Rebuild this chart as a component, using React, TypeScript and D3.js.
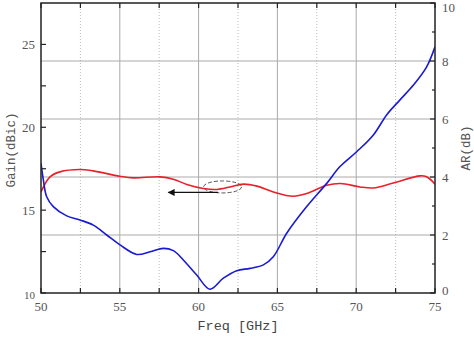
import React from 'react';
import * as d3 from 'd3';

// Gain (left axis, dBic) - red curve
const gainFreq = [50, 50.57, 51.2, 52.47, 53.3, 55.0, 55.86, 57.55, 58.4, 59.25, 60.3, 61.15, 62.0, 62.84, 63.7, 64.74, 66.0, 66.86, 68.13, 69.0, 70.24, 71.1, 72.35, 74.05, 74.47, 75];
const gainVals = [16.1, 17.01, 17.31, 17.45, 17.37, 17.05, 16.95, 17.01, 16.87, 16.55, 16.31, 16.25, 16.4, 16.57, 16.45, 16.1, 15.84, 16.0, 16.5, 16.61, 16.4, 16.34, 16.64, 17.07, 17.01, 16.57];

// AR (right axis, dB) - blue curve
const arFreq = [50, 50.15, 50.36, 50.78, 51.63, 52.47, 53.32, 54.17, 55.01, 56.07, 56.92, 57.76, 58.4, 59.03, 59.88, 60.72, 61.57, 62.42, 63.26, 64.11, 64.74, 65.59, 66.86, 68.13, 68.97, 70.03, 71.09, 71.93, 72.78, 73.63, 74.47, 75];
const arVals = [4.47, 3.9, 3.32, 2.98, 2.66, 2.52, 2.34, 2.0, 1.66, 1.33, 1.42, 1.54, 1.46, 1.14, 0.62, 0.13, 0.51, 0.77, 0.85, 0.97, 1.25, 2.06, 2.98, 3.78, 4.36, 4.87, 5.45, 6.14, 6.66, 7.17, 7.8, 8.49];

const xMajor = [50, 55, 60, 65, 70, 75];
const xMinor = [52.5, 57.5, 62.5, 67.5, 72.5];
const gainMajor = [10, 15, 20, 25];
const gainMinor = [12.5, 17.5, 22.5];
const arMajor = [0, 2, 4, 6, 8, 10];
const arMinor = [1, 3, 5, 7, 9];

const W = 474;
const H = 348;
const left = 41, right = 435, top = 3, bottom = 293;

export default function App() {
  const x = d3.scaleLinear().domain([50, 75]).range([left, right]);
  const yL = d3.scaleLinear().domain([10, 27.5]).range([bottom, top]);
  const yR = d3.scaleLinear().domain([0, 10]).range([bottom, top]);

  const gainLine = d3.line<number>()
    .x((_, i) => x(gainFreq[i]))
    .y(d => yL(d))
    .curve(d3.curveCatmullRom.alpha(0.5));
  const arLine = d3.line<number>()
    .x((_, i) => x(arFreq[i]))
    .y(d => yR(d))
    .curve(d3.curveCatmullRom.alpha(0.5));

  const tickLen = 5;
  const minorLen = 3;
  const labelColor = '#555';
  const serif = '"Liberation Serif", "DejaVu Serif", serif';
  const mono = '"Liberation Mono", "DejaVu Sans Mono", monospace';

  // keep the top-right "10" inside the picture
  const rightLabelY = (v: number) => {
    if (v === 0) return yR(v) + 2;
    if (v === 10) return yR(v) + 9;
    return yR(v) + 4.5;
  };

  return (
    <svg width={W} height={H} style={{ position: 'absolute', left: 0, top: 0, background: '#fff' }}>
      <defs>
        <marker id="arrowHead" viewBox="0 0 10 10" refX="9" refY="5" markerWidth="8" markerHeight="7" orient="auto" markerUnits="userSpaceOnUse">
          <path d="M0,0 L10,5 L0,10 z" fill="#111" />
        </marker>
        <clipPath id="plotClip">
          <rect x={left} y={top} width={right - left} height={bottom - top} />
        </clipPath>
      </defs>

      {/* grid */}
      <g>
        {xMajor.slice(1, -1).map(v => (
          <line key={'gx' + v} x1={x(v)} x2={x(v)} y1={top} y2={bottom} stroke="#aaa" strokeWidth={1} />
        ))}
        {xMinor.map(v => (
          <line key={'gxm' + v} x1={x(v)} x2={x(v)} y1={top} y2={bottom} stroke="#bbb" strokeWidth={1} strokeDasharray="1,2" />
        ))}
        {arMajor.slice(1, -1).map(v => (
          <line key={'gy' + v} x1={left} x2={right} y1={yR(v)} y2={yR(v)} stroke="#aaa" strokeWidth={1} />
        ))}
      </g>

      {/* curves */}
      <g clipPath="url(#plotClip)">
        <path d={gainLine(gainVals) || ''} fill="none" stroke="#e8202a" strokeWidth={1.6} />
        <path d={arLine(arVals) || ''} fill="none" stroke="#1a1ad2" strokeWidth={1.6} />
      </g>

      {/* annotation */}
      <ellipse cx={x(61.52)} cy={yL(16.4)} rx={19} ry={6} fill="none" stroke="#555" strokeWidth={1} strokeDasharray="4,2" />
      <line x1={x(61.23)} y1={yL(16.07)} x2={x(58.08)} y2={yL(16.07)} stroke="#111" strokeWidth={1.3} markerEnd="url(#arrowHead)" />

      {/* frame */}
      <rect x={left} y={top} width={right - left} height={bottom - top} fill="none" stroke="#222" strokeWidth={1.5} />

      {/* bottom/top ticks */}
      {xMajor.concat(xMinor).map(v => (
        <g key={'tx' + v}>
          <line x1={x(v)} x2={x(v)} y1={bottom} y2={bottom - tickLen} stroke="#222" strokeWidth={1.2} />
          <line x1={x(v)} x2={x(v)} y1={top} y2={top + tickLen} stroke="#222" strokeWidth={1.2} />
        </g>
      ))}
      {xMajor.map(v => (
        <text key={'lx' + v} x={x(v)} y={bottom + 18} textAnchor="middle" fontFamily={serif} fontSize={13} fill={labelColor}>{v}</text>
      ))}

      {/* left ticks */}
      {gainMajor.concat(gainMinor).map(v => (
        <line key={'tl' + v} x1={left} x2={left + tickLen} y1={yL(v)} y2={yL(v)} stroke="#222" strokeWidth={1.2} />
      ))}
      {gainMajor.map(v => (
        <text key={'ll' + v} x={left - 6} y={yL(v) + (v === 10 ? 6 : 4.5)} textAnchor="end" fontFamily={serif} fontSize={v === 10 ? 11 : 13} fill={labelColor}>{v}</text>
      ))}

      {/* right ticks */}
      {arMajor.map(v => (
        <line key={'tr' + v} x1={right} x2={right - tickLen} y1={yR(v)} y2={yR(v)} stroke="#222" strokeWidth={1.2} />
      ))}
      {arMinor.map(v => (
        <line key={'trm' + v} x1={right} x2={right - minorLen} y1={yR(v)} y2={yR(v)} stroke="#222" strokeWidth={1.2} />
      ))}
      {arMajor.map(v => (
        <text key={'lr' + v} x={right + 7} y={rightLabelY(v)} textAnchor="start" fontFamily={serif} fontSize={13} fill={labelColor}>{v}</text>
      ))}

      {/* axis titles */}
      <text x={(left + right) / 2} y={330} textAnchor="middle" fontFamily={mono} fontSize={13.5} fill="#444">Freq [GHz]</text>
      <text transform={`translate(15,150) rotate(-90)`} textAnchor="middle" fontFamily={mono} fontSize={12.5} fill="#555">Gain(dBic)</text>
      <text transform={`translate(470,148) rotate(-90)`} textAnchor="middle" fontFamily={mono} fontSize={12.5} fill="#555">AR(dB)</text>
    </svg>
  );
}
